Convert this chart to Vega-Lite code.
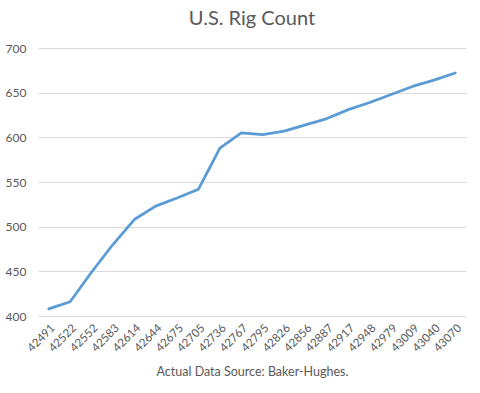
{
  "$schema": "https://vega.github.io/schema/vega-lite/v6.json",
  "width": 428,
  "height": 268,
  "autosize": {"type": "none"},
  "padding": {"left": 38, "top": 48, "right": 14, "bottom": 77},
  "background": "white",
  "title": {
    "text": "U.S. Rig Count",
    "font": "Lato",
    "fontSize": 20,
    "fontWeight": "normal",
    "color": "#595959",
    "offset": 13
  },
  "data": {
    "values": [
      {"month": "42491", "rigs": 408},
      {"month": "42522", "rigs": 416},
      {"month": "42552", "rigs": 449},
      {"month": "42583", "rigs": 480},
      {"month": "42614", "rigs": 508},
      {"month": "42644", "rigs": 523},
      {"month": "42675", "rigs": 532},
      {"month": "42705", "rigs": 542},
      {"month": "42736", "rigs": 588},
      {"month": "42767", "rigs": 605},
      {"month": "42795", "rigs": 603},
      {"month": "42826", "rigs": 607},
      {"month": "42856", "rigs": 614},
      {"month": "42887", "rigs": 621},
      {"month": "42917", "rigs": 631},
      {"month": "42948", "rigs": 639},
      {"month": "42979", "rigs": 648},
      {"month": "43009", "rigs": 657},
      {"month": "43040", "rigs": 664},
      {"month": "43070", "rigs": 672}
    ]
  },
  "mark": {"type": "line", "color": "#5B9BD5", "strokeWidth": 2.75, "strokeCap": "round", "strokeJoin": "round"},
  "encoding": {
    "x": {
      "field": "month",
      "type": "ordinal",
      "sort": null,
      "scale": {"type": "point", "padding": 0.5},
      "axis": {
        "title": "Actual Data Source: Baker-Hughes.",
        "titleFont": "Lato",
        "titleFontSize": 12.5,
        "titleFontWeight": "normal",
        "titleColor": "#595959",
        "titlePadding": 12,
        "labelFont": "Lato",
        "labelFontSize": 11.5,
        "labelColor": "#595959",
        "labelAngle": -45,
        "labelPadding": 6,
        "ticks": false,
        "domain": false,
        "grid": false
      }
    },
    "y": {
      "field": "rigs",
      "type": "quantitative",
      "scale": {"domain": [400, 700], "nice": false, "zero": false},
      "axis": {
        "title": null,
        "values": [400, 450, 500, 550, 600, 650, 700],
        "labelFont": "Lato",
        "labelFontSize": 12,
        "labelColor": "#595959",
        "labelPadding": 12,
        "labelAlign": "right",
        "ticks": false,
        "domain": false,
        "grid": true,
        "gridColor": "#D9D9D9",
        "gridWidth": 1
      }
    }
  },
  "config": {
    "view": {"stroke": null}
  }
}
